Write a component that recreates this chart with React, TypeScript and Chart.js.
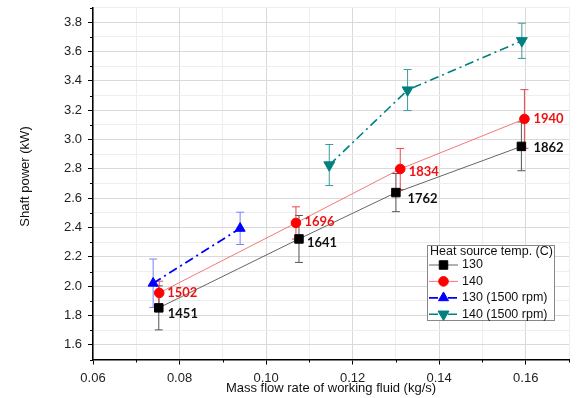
import React, { useEffect, useRef } from "react";
import { Chart, registerables } from "chart.js";
import { drawPoint } from "chart.js/helpers";

Chart.register(...registerables);

// ---- data ----
const flow130 = [0.0752, 0.1076, 0.13, 0.159];
const power130 = [1.852, 2.322, 2.638, 2.953];
const err130 = [0.15, 0.16, 0.13, 0.166];
const rpm130 = ["1451", "1641", "1762", "1862"];

const flow140 = [0.0753, 0.1069, 0.131, 0.1597];
const power140 = [1.954, 2.431, 2.799, 3.14];
const err140 = [0.08, 0.11, 0.14, 0.2];
const rpm140 = ["1502", "1696", "1834", "1940"];

const flow130r = [0.0739, 0.094];
const power130r = [2.02, 2.394];
const err130r = [0.165, 0.11];

const flow140r = [0.1146, 0.1327, 0.1591];
const power140r = [2.826, 3.337, 3.673];
const err140r = [0.14, 0.14, 0.12];

const seriesNames = ["130", "140", "130 (1500 rpm)", "140 (1500 rpm)"];
const legendTitle = "Heat source temp. (C)";
const xTitle = "Mass flow rate of working fluid (kg/s)";
const yTitle = "Shaft power (kW)";

const xTickLabels = ["0.06", "0.08", "0.10", "0.12", "0.14", "0.16"];
const yTickLabels = ["1.6", "1.8", "2.0", "2.2", "2.4", "2.6", "2.8", "3.0", "3.2", "3.4", "3.6", "3.8"];

const X_MIN = 0.06, X_MAX = 0.17, X_STEP = 0.01;
const Y_MIN = 1.5, Y_MAX = 3.9, Y_STEP = 0.1;

const flows = [flow130, flow140, flow130r, flow140r];
const powers = [power130, power140, power130r, power140r];
const errs = [err130, err140, err130r, err140r];
const rpmLabels = [rpm130, rpm140];

const errColors = ["#555555", "#e84848", "#7f7fff", "#3a9a9a"];
const labelColors = ["#111111", "#ee1111"];
const labelOffsets = [
  [[9, 6], [8, 3.5], [11.5, 6], [12, 1]],
  [[8, -0.5], [8.5, -1.5], [8.5, 2.5], [9, 0]],
];

const LBL_FONT = "Liberation Sans, Arial, sans-serif";

const extras = {
  id: "extras",
  beforeDatasetsDraw(chart: any) {
    const ctx = chart.ctx;
    const xs = chart.scales.x, ys = chart.scales.y;
    ctx.save();
    for (let i = 0; i < flows.length; i++) {
      ctx.strokeStyle = errColors[i];
      ctx.lineWidth = 1;
      for (let j = 0; j < flows[i].length; j++) {
        const x = xs.getPixelForValue(flows[i][j]);
        const y1 = ys.getPixelForValue(powers[i][j] + errs[i][j]);
        const y2 = ys.getPixelForValue(powers[i][j] - errs[i][j]);
        ctx.beginPath();
        ctx.moveTo(x, y1);
        ctx.lineTo(x, y2);
        ctx.moveTo(x - 4, y1);
        ctx.lineTo(x + 4, y1);
        ctx.moveTo(x - 4, y2);
        ctx.lineTo(x + 4, y2);
        ctx.stroke();
      }
    }
    ctx.restore();
  },
  afterDatasetsDraw(chart: any) {
    const ctx = chart.ctx;
    const xs = chart.scales.x, ys = chart.scales.y;
    ctx.save();
    ctx.font = "bold 13px Lato, 'Open Sans', sans-serif";
    ctx.textAlign = "left";
    ctx.textBaseline = "middle";
    for (let i = 0; i < rpmLabels.length; i++) {
      ctx.fillStyle = labelColors[i];
      for (let j = 0; j < rpmLabels[i].length; j++) {
        const x = xs.getPixelForValue(flows[i][j]);
        const y = ys.getPixelForValue(powers[i][j]);
        ctx.fillText(rpmLabels[i][j], x + labelOffsets[i][j][0], y + labelOffsets[i][j][1]);
      }
    }
    ctx.restore();
  },
  afterDraw(chart: any) {
    const ctx = chart.ctx;
    const xs = chart.scales.x, ys = chart.scales.y;
    const area = chart.chartArea;
    ctx.save();
    // minor ticks
    ctx.strokeStyle = "#000";
    ctx.lineWidth = 1;
    ctx.beginPath();
    xs.ticks.forEach((t: any) => {
      if (!t.label) {
        const x = Math.round(xs.getPixelForValue(t.value)) + 0.5;
        ctx.moveTo(x, area.bottom);
        ctx.lineTo(x, area.bottom + 3);
      }
    });
    ys.ticks.forEach((t: any) => {
      if (!t.label) {
        const y = Math.round(ys.getPixelForValue(t.value)) + 0.5;
        ctx.moveTo(area.left, y);
        ctx.lineTo(area.left - 3, y);
      }
    });
    ctx.stroke();

    // axis titles
    ctx.fillStyle = "#111";
    ctx.font = `13px ${LBL_FONT}`;
    ctx.textAlign = "center";
    ctx.textBaseline = "middle";
    ctx.fillText(xTitle, (area.left + area.right) / 2, 388.5);
    ctx.save();
    ctx.translate(25, 176.5);
    ctx.rotate(-Math.PI / 2);
    ctx.fillText(yTitle, 0, 0);
    ctx.restore();

    // legend
    const bx = 427, by = 245, bw = 127, bh = 75;
    ctx.fillStyle = "#fff";
    ctx.fillRect(bx, by, bw, bh);
    ctx.strokeStyle = "#888";
    ctx.lineWidth = 1;
    ctx.strokeRect(bx + 0.5, by + 0.5, bw, bh);
    ctx.fillStyle = "#111";
    ctx.font = `12.5px ${LBL_FONT}`;
    ctx.textAlign = "left";
    ctx.textBaseline = "middle";
    ctx.fillText(legendTitle, 430, 252);
    chart.data.datasets.forEach((ds: any, i: number) => {
      const y = 265 + i * 16.4;
      ctx.save();
      ctx.strokeStyle = ds.borderColor;
      ctx.lineWidth = ds.borderWidth;
      ctx.setLineDash(ds.borderDash || []);
      ctx.beginPath();
      ctx.moveTo(429, y);
      ctx.lineTo(458, y);
      ctx.stroke();
      ctx.setLineDash([]);
      ctx.fillStyle = ds.pointBackgroundColor;
      ctx.strokeStyle = ds.pointBorderColor;
      ctx.lineWidth = 1;
      drawPoint(ctx, {
        pointStyle: ds.pointStyle,
        rotation: ds.pointRotation || 0,
        radius: ds.pointRadius,
        borderWidth: 1,
      }, 443.5, y);
      ctx.restore();
      ctx.fillStyle = "#111";
      ctx.fillText(ds.label, 462, y);
    });
    ctx.restore();
  },
};

function xy(xv: number[], yv: number[]) {
  return xv.map((x, i) => ({ x, y: yv[i] }));
}

export default function App() {
  const ref = useRef<HTMLCanvasElement | null>(null);
  useEffect(() => {
    if (!ref.current) return;
    const dash = [9, 4, 2, 4];
    const chart = new Chart(ref.current, {
      type: "scatter",
      data: {
        datasets: [
          {
            label: seriesNames[0],
            data: xy(flow130, power130),
            showLine: true,
            borderColor: "#555555",
            borderWidth: 0.9,
            pointStyle: "rect",
            pointRadius: 6,
            pointBackgroundColor: "#000000",
            pointBorderColor: "#000000",
            pointBorderWidth: 1,
          },
          {
            label: seriesNames[1],
            data: xy(flow140, power140),
            showLine: true,
            borderColor: "#f06a6a",
            borderWidth: 0.9,
            pointStyle: "circle",
            pointRadius: 4.8,
            pointBackgroundColor: "#ff0000",
            pointBorderColor: "#ff0000",
            pointBorderWidth: 1,
          },
          {
            label: seriesNames[2],
            data: xy(flow130r, power130r),
            showLine: true,
            borderColor: "#0000ff",
            borderWidth: 1.8,
            borderDash: dash,
            pointStyle: "triangle",
            pointRadius: 5.8,
            pointBackgroundColor: "#0000ff",
            pointBorderColor: "#0000ff",
            pointBorderWidth: 1,
          },
          {
            label: seriesNames[3],
            data: xy(flow140r, power140r),
            showLine: true,
            borderColor: "#008080",
            borderWidth: 1.6,
            borderDash: dash,
            pointStyle: "triangle",
            pointRotation: 180,
            pointRadius: 6.3,
            pointBackgroundColor: "#008080",
            pointBorderColor: "#008080",
            pointBorderWidth: 1,
          },
        ],
      },
      options: {
        animation: false,
        responsive: false,
        devicePixelRatio: 1,
        layout: { padding: { left: 0, right: 11, top: 7.5, bottom: 0 } },
        plugins: {
          legend: { display: false },
          tooltip: { enabled: false },
        },
        scales: {
          x: {
            type: "linear",
            min: X_MIN,
            max: X_MAX,
            afterFit(scale: any) {
              scale.height = 38.5;
              scale.paddingLeft = 0;
              scale.paddingRight = 0;
            },
            ticks: {
              stepSize: X_STEP,
              autoSkip: false,
              maxRotation: 0,
              padding: 6,
              color: "#222",
              font: { family: LBL_FONT, size: 13 },
              callback(v: any) {
                const s = Number(v).toFixed(2);
                return xTickLabels.includes(s) ? s : "";
              },
            },
            grid: {
              color: (c: any) => (c.tick && c.tick.label ? "#d9d9d9" : "#eeeeee"),
              lineWidth: 1,
              tickLength: 5,
              tickColor: (c: any) => (c.tick && c.tick.label ? "#000" : "rgba(0,0,0,0)"),
            },
            border: { color: "#000", width: 1.5 },
          },
          y: {
            type: "linear",
            min: Y_MIN,
            max: Y_MAX,
            afterFit(scale: any) {
              scale.width = 93;
              scale.paddingTop = 0;
              scale.paddingBottom = 0;
            },
            ticks: {
              stepSize: Y_STEP,
              autoSkip: false,
              padding: 6,
              color: "#222",
              font: { family: LBL_FONT, size: 13 },
              callback(v: any) {
                const s = Number(v).toFixed(1);
                return yTickLabels.includes(s) ? s : "";
              },
            },
            grid: {
              color: (c: any) => (c.tick && c.tick.label ? "#d9d9d9" : "#eeeeee"),
              lineWidth: 1,
              tickLength: 5,
              tickColor: (c: any) => (c.tick && c.tick.label ? "#000" : "rgba(0,0,0,0)"),
            },
            border: { color: "#000", width: 1.5 },
          },
        },
      },
      plugins: [extras],
    } as any);
    return () => chart.destroy();
  }, []);
  return (
    <div style={{ position: "absolute", left: 0, top: 0, width: 580, height: 398 }}>
      <canvas ref={ref} width={580} height={398} />
    </div>
  );
}
